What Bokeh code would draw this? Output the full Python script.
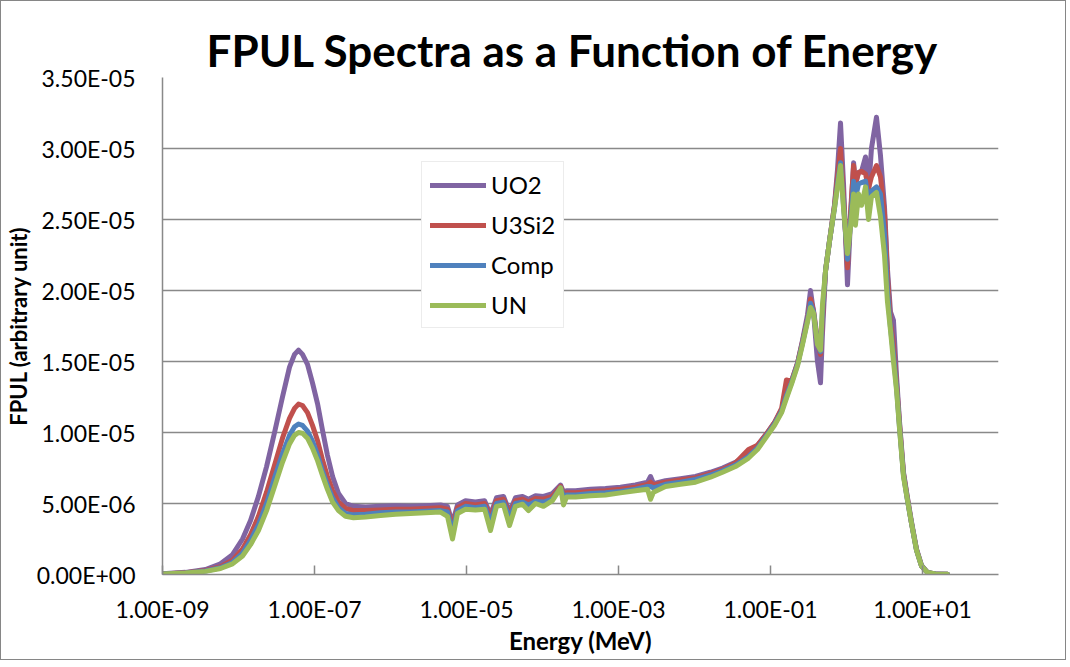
from bokeh.plotting import figure
from bokeh.models import FixedTicker, CustomJSTickFormatter, Legend, LegendItem, Range1d
from bokeh.embed import file_html
from bokeh.resources import INLINE

# ---------------- data (FPUL values in units of 1e-6) ----------------
energy_mev = [
    1.00e-9, 2.01e-9, 3.68e-9, 5.80e-9, 8.34e-9, 1.13e-8, 1.44e-8, 1.83e-8, 2.34e-8, 2.98e-8,
    3.79e-8, 4.69e-8, 5.46e-8, 6.16e-8, 6.95e-8, 8.09e-8, 9.41e-8, 1.10e-7, 1.27e-7, 1.48e-7,
    1.73e-7, 2.07e-7, 2.56e-7, 3.26e-7, 4.69e-7, 7.39e-7, 1.16e-6, 1.83e-6, 2.89e-6, 4.55e-6,
    5.62e-6, 6.54e-6, 7.61e-6, 9.70e-6, 1.31e-5, 1.73e-5, 2.07e-5, 2.48e-5, 3.07e-5, 3.68e-5,
    4.41e-5, 5.46e-5, 6.54e-5, 8.09e-5, 1.03e-4, 1.35e-4, 1.73e-4, 1.89e-4, 2.07e-4, 2.72e-4,
    4.28e-4, 6.74e-4, 1.06e-3, 1.67e-3, 2.41e-3, 2.64e-3, 2.89e-3, 4.15e-3, 6.54e-3, 1.03e-2,
    1.62e-2, 2.34e-2, 3.46e-2, 5.14e-2, 6.74e-2, 8.86e-2, 0.113, 0.140, 0.162, 0.189,
    0.227, 0.264, 0.307, 0.336, 0.368, 0.415, 0.455, 0.483, 0.530, 0.598,
    0.695, 0.761, 0.834, 0.914, 1.03, 1.13, 1.24, 1.31, 1.44, 1.58,
    1.78, 1.95, 2.13, 2.48, 2.80, 3.16, 3.46, 3.79, 4.15, 4.55,
    4.98, 5.62, 6.35, 7.17, 8.34, 9.70, 11.6, 14.8, 21.3,
]

uo2_e6 = [
    0.05, 0.15, 0.35, 0.75, 1.4, 2.5, 3.8, 5.5, 7.6, 10.0,
    12.5, 14.6, 15.5, 15.8, 15.5, 14.8, 13.5, 12.0, 10.2, 8.4,
    6.9, 5.7, 5.0, 4.8, 4.75, 4.8, 4.85, 4.8, 4.85, 4.9,
    4.8, 3.6, 4.9, 5.2, 5.1, 5.2, 4.2, 5.4, 5.5, 4.4,
    5.4, 5.5, 5.3, 5.55, 5.5, 5.7, 6.3, 5.8, 5.9, 5.9,
    6.0, 6.05, 6.15, 6.3, 6.5, 6.9, 6.4, 6.6, 6.75, 6.9,
    7.2, 7.5, 7.9, 8.5, 9.1, 9.9, 10.7, 11.6, 12.5, 13.6,
    14.9, 16.5, 18.3, 20.0, 18.5, 15.0, 13.5, 17.0, 21.4, 23.5,
    26.0, 28.5, 31.8, 27.5, 20.4, 25.0, 29.0, 27.5, 28.3, 28.4,
    29.4, 27.0, 30.0, 32.2, 29.5, 25.9, 21.5, 18.5, 17.9, 14.0,
    10.8, 7.2, 5.4, 3.7, 1.8, 0.65, 0.15, 0.03, 0.01,
]

u3si2_e6 = [
    0.04, 0.12, 0.28, 0.55, 1.0, 1.8, 2.8, 4.1, 5.8, 7.7,
    9.6, 11.0, 11.7, 12.0, 11.9, 11.4, 10.5, 9.4, 8.1, 6.9,
    5.9, 5.1, 4.65, 4.5, 4.5, 4.55, 4.6, 4.6, 4.65, 4.7,
    4.6, 3.3, 4.7, 5.0, 4.9, 5.0, 4.0, 5.2, 5.3, 4.2,
    5.2, 5.3, 5.1, 5.35, 5.3, 5.5, 6.2, 5.7, 5.75, 5.75,
    5.85, 5.9, 6.0, 6.15, 6.35, 6.5, 6.3, 6.5, 6.65, 6.8,
    7.1, 7.4, 7.85, 8.8, 9.1, 9.9, 10.7, 11.7, 13.7, 13.6,
    14.9, 16.4, 18.0, 19.4, 18.6, 16.5, 15.5, 18.0, 21.4, 23.5,
    26.0, 28.0, 30.0, 26.5, 21.6, 25.5, 28.8, 27.5, 28.3, 28.4,
    28.2, 27.2, 28.0, 28.8, 28.0, 25.5, 21.0, 17.8, 16.2, 13.5,
    10.6, 7.1, 5.3, 3.6, 1.75, 0.6, 0.14, 0.03, 0.01,
]

comp_e6 = [
    0.04, 0.11, 0.25, 0.48, 0.85, 1.5, 2.4, 3.5, 5.0, 6.8,
    8.5, 9.8, 10.4, 10.6, 10.5, 10.1, 9.4, 8.4, 7.3, 6.3,
    5.4, 4.7, 4.3, 4.2, 4.25, 4.35, 4.4, 4.4, 4.45, 4.5,
    4.4, 3.0, 4.5, 4.8, 4.7, 4.8, 3.7, 5.0, 5.1, 4.0,
    5.0, 5.1, 4.9, 5.15, 5.1, 5.3, 6.1, 5.5, 5.6, 5.6,
    5.7, 5.75, 5.85, 6.0, 6.2, 6.2, 6.1, 6.35, 6.5, 6.7,
    7.0, 7.3, 7.7, 8.3, 8.9, 9.8, 10.6, 11.5, 12.6, 13.5,
    14.8, 16.3, 17.9, 19.1, 18.5, 16.3, 15.7, 18.5, 21.4, 23.5,
    25.8, 27.5, 29.0, 26.0, 22.2, 24.8, 27.7, 26.5, 27.5, 27.6,
    27.7, 26.3, 27.0, 27.3, 26.8, 24.0, 20.0, 17.4, 15.5, 13.2,
    10.4, 7.0, 5.2, 3.6, 1.7, 0.6, 0.14, 0.03, 0.01,
]

un_e6 = [
    0.03, 0.10, 0.22, 0.42, 0.75, 1.3, 2.1, 3.1, 4.5, 6.2,
    7.9, 9.2, 9.8, 10.0, 9.95, 9.6, 8.9, 8.0, 7.0, 6.0,
    5.1, 4.5, 4.1, 4.0, 4.05, 4.15, 4.25, 4.3, 4.35, 4.4,
    4.1, 2.5, 4.3, 4.6, 4.55, 4.6, 3.1, 4.8, 4.9, 3.45,
    4.8, 4.95, 4.5, 5.0, 4.8, 5.2, 6.1, 4.9, 5.45, 5.45,
    5.55, 5.6, 5.75, 5.9, 6.0, 5.3, 5.8, 6.2, 6.35, 6.5,
    6.85, 7.2, 7.6, 8.2, 8.8, 9.7, 10.5, 11.4, 12.4, 13.4,
    14.7, 16.2, 17.8, 18.8, 18.4, 16.2, 15.8, 19.0, 21.4, 23.5,
    25.8, 27.3, 28.8, 25.8, 22.6, 24.5, 26.8, 24.6, 26.8, 26.0,
    27.3, 25.0, 26.6, 26.9, 25.2, 22.5, 19.2, 17.2, 15.0, 13.0,
    10.3, 6.9, 5.2, 3.6, 1.7, 0.6, 0.14, 0.03, 0.01,
]

series_names = ["UO2", "U3Si2", "Comp", "UN"]
series_values = [uo2_e6, u3si2_e6, comp_e6, un_e6]
series_colors = ["#8064A2", "#C0504D", "#4F81BD", "#9BBB59"]

x_ticks = [1e-9, 1e-7, 1e-5, 1e-3, 1e-1, 1e1]
x_labels = ["1.00E-09", "1.00E-07", "1.00E-05", "1.00E-03", "1.00E-01", "1.00E+01"]
y_ticks = [0.0, 5e-6, 1e-5, 1.5e-5, 2e-5, 2.5e-5, 3e-5, 3.5e-5]
y_labels = ["0.00E+00", "5.00E-06", "1.00E-05", "1.50E-05", "2.00E-05", "2.50E-05", "3.00E-05", "3.50E-05"]

FONT = "Lato"
GRAY = "#898989"

p = figure(
    width=1066, height=660,
    x_axis_type="log",
    x_range=Range1d(1e-9, 1e2), y_range=Range1d(0, 3.5e-5),
    output_backend="svg", toolbar_location=None,
    min_border_left=161, min_border_right=69, min_border_top=76, min_border_bottom=87,
    title="FPUL Spectra as a Function of Energy",
)
p.styles = {"border": "1px solid #868686"}
p.outline_line_color = None
p.background_fill_color = "white"
p.border_fill_color = "white"

p.title.text_font = FONT
p.title.text_font_style = "bold"
p.title.text_font_size = "44px"
p.title.align = "left"
p.title.offset = 44
p.title.standoff = 3
p.title.text_color = "black"

renderers = []
for name, vals, col in zip(series_names, series_values, series_colors):
    r = p.line(energy_mev, [v * 1e-6 for v in vals], line_color=col, line_width=5,
               line_join="round", line_cap="round")
    renderers.append(r)

js_fmt = """
let best = -1, bd = Infinity;
for (let i = 0; i < tvals.length; i++) {
  const d = Math.abs(tvals[i] - tick);
  if (d < bd) { bd = d; best = i; }
}
return best >= 0 ? tlabels[best] : "";
"""

xa = p.xaxis[0]
xa.ticker = FixedTicker(ticks=x_ticks)
xa.formatter = CustomJSTickFormatter(args=dict(tvals=x_ticks, tlabels=x_labels), code=js_fmt)
xa.minor_tick_line_color = None
xa.major_tick_in = 9
xa.major_tick_out = 0
xa.major_tick_line_color = GRAY
xa.major_tick_line_width = 1.5
xa.axis_line_color = GRAY
xa.axis_line_width = 1.5
xa.major_label_text_font = FONT
xa.major_label_text_font_size = "23px"
xa.major_label_text_color = "black"
xa.major_label_standoff = 20
xa.axis_label = "Energy (MeV)"
xa.axis_label_text_font = FONT
xa.axis_label_text_font_style = "bold"
xa.axis_label_text_font_size = "24px"
xa.axis_label_text_color = "black"
xa.axis_label_standoff = 0

ya = p.yaxis[0]
ya.ticker = FixedTicker(ticks=y_ticks)
ya.formatter = CustomJSTickFormatter(args=dict(tvals=y_ticks, tlabels=y_labels), code=js_fmt)
ya.minor_tick_line_color = None
ya.major_tick_in = 0
ya.major_tick_out = 0
ya.axis_line_color = GRAY
ya.axis_line_width = 1.5
ya.major_label_text_font = FONT
ya.major_label_text_font_size = "23px"
ya.major_label_text_color = "black"
ya.major_label_standoff = 27
ya.axis_label = "FPUL (arbitrary unit)"
ya.axis_label_text_font = FONT
ya.axis_label_text_font_style = "bold"
ya.axis_label_text_font_size = "22px"
ya.axis_label_text_color = "black"
ya.axis_label_standoff = 2

p.xgrid.visible = False
p.ygrid.ticker = FixedTicker(ticks=y_ticks)
p.ygrid.grid_line_color = GRAY
p.ygrid.grid_line_width = 1.5

legend = Legend(
    items=[LegendItem(label=n, renderers=[r]) for n, r in zip(series_names, renderers)],
    location=(259, 246),
    label_text_font=FONT, label_text_font_size="24px", label_text_color="black",
    glyph_width=56, glyph_height=28, label_height=28, spacing=11, padding=8,
    label_standoff=5, margin=0,
    border_line_color="#d9d9d9", border_line_width=1.5,
    background_fill_color="white", background_fill_alpha=1.0,
)
p.add_layout(legend, "center")

open("out.html", "w").write(file_html(p, INLINE))
